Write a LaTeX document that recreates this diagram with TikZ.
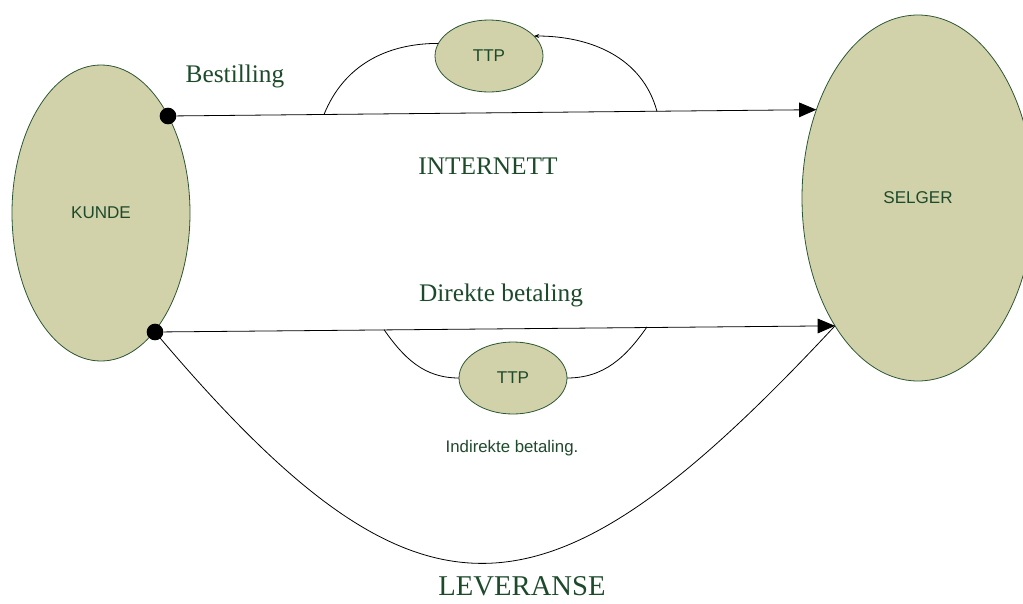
\documentclass[tikz,border=0pt]{standalone}
\usepackage{fontspec}
\setmainfont{Liberation Serif}
\setsansfont{Liberation Sans}
\usetikzlibrary{shapes.geometric,arrows.meta}
\definecolor{partfill}{HTML}{D2D2AA}
\definecolor{partline}{HTML}{2C5634}
\definecolor{labelgreen}{HTML}{1E4A2C}
\begin{document}
\begin{tikzpicture}[x=0.75pt,y=-0.75pt,line width=0.6pt,
  party/.style={ellipse,draw=partline,fill=partfill,inner sep=0pt,outer sep=0pt,
    text=labelgreen,font=\sffamily\fontsize{12.8}{15}\selectfont},
  endpt/.style={circle,fill=black,inner sep=0pt,minimum size=12.5pt},
  lbl/.style={text=labelgreen,font=\fontsize{19}{22}\selectfont},
  flow/.style={-{Triangle[length=13pt,width=11pt]}}]
\useasboundingbox (0,0) rectangle (1023,603);

\node[party,minimum width=133.5pt,minimum height=222pt] (kunde) at (101,213) {KUNDE};
\node[party,minimum width=174pt,minimum height=274.5pt] (selger) at (918,198) {SELGER};
\node[party,minimum width=81pt,minimum height=54pt] (ttpA) at (489,56) {TTP};
\node[party,minimum width=81pt,minimum height=54pt] (ttpB) at (513,378) {TTP};

\node[endpt] (dotA) at (168,116) {};
\node[endpt] (dotB) at (155,332) {};

\node[lbl] (bestilling) at (235,76) {Bestilling};
\node[lbl] (internett) at (488,166) {INTERNETT};
\node[lbl] (direkte) at (501,295) {Direkte betaling};
\node[text=labelgreen,font=\sffamily\fontsize{12.6}{15}\selectfont] (indirekte) at (512,448) {Indirekte betaling.};
\node[text=labelgreen,font=\fontsize{21.5}{25}\selectfont,inner sep=0pt,anchor=south] (leveranse) at (522,596) {LEVERANSE};

\draw[flow] (dotA) -- (selger.139);
\draw[flow] (dotB) -- (selger.237);
\draw (dotB.center) .. controls (420,646) and (545,637) .. (selger.237);

\coordinate (upL) at (324,114.5);
\coordinate (upR) at (657,111.5);
\coordinate (dnL) at (384,329.6);
\coordinate (dnR) at (647,326.9);
\draw (upL) to[out=68,in=180] (ttpA.166);
\draw[-{Stealth[length=4pt,width=3pt]}] (upR) to[out=105,in=0] (ttpA.24);
\draw (dnL) to[out=-55,in=180] (ttpB.west);
\draw (ttpB.east) to[out=0,in=-125] (dnR);
\end{tikzpicture}
\end{document}
